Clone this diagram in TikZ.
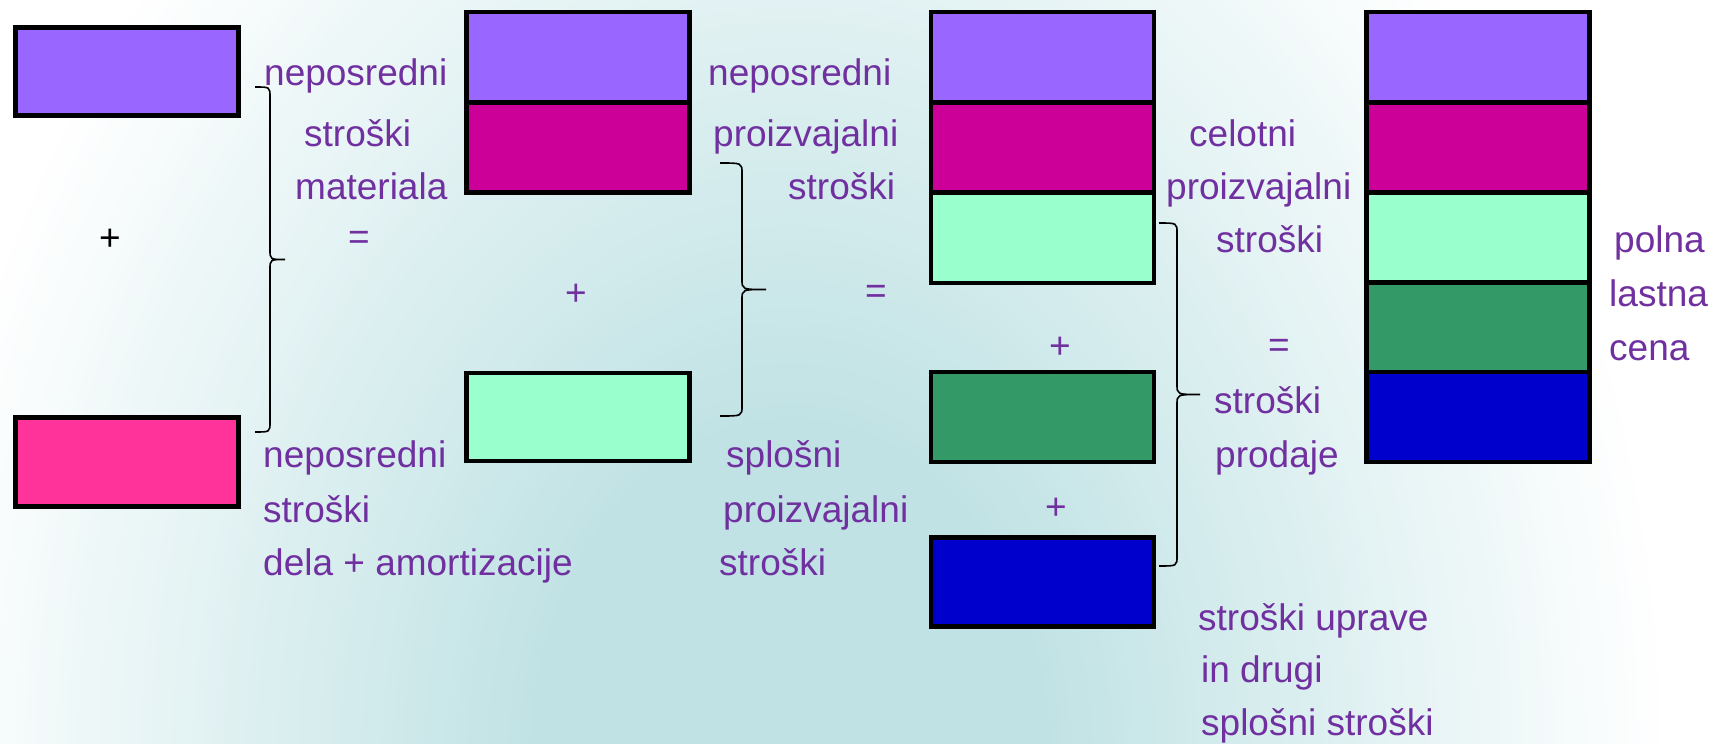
\documentclass[tikz,border=0pt]{standalone}
\usepackage{fontspec}
\setmainfont{Liberation Sans}
\definecolor{txt}{HTML}{7030A0}
\definecolor{cpurple}{HTML}{9966FF}
\definecolor{cmag}{HTML}{CC0099}
\definecolor{clgreen}{HTML}{99FFCC}
\definecolor{cdgreen}{HTML}{339966}
\definecolor{cblue}{HTML}{0000CC}
\definecolor{cpink}{HTML}{FF3399}
\definecolor{bgteal}{HTML}{C0E2E4}
\tikzset{
  box/.style={draw=black, line width=4.5pt, rectangle, inner sep=0pt, outer sep=0pt,
    minimum width=223pt, minimum height=90pt},
  lbl/.style={anchor=base west, inner sep=0pt, text=txt, font=\fontsize{37}{44}\selectfont},
  sym/.style={anchor=center, inner sep=0pt, text=txt, font=\fontsize{37}{44}\selectfont},
  brace/.style={draw=black, line width=1.6pt}
}
\begin{document}
\begin{tikzpicture}[x=1pt,y=-1pt]
\useasboundingbox (0,0) rectangle (1714,744);
\begin{scope}
\clip (0,0) rectangle (1714,744);
\fill[white] (0,0) rectangle (1714,744);
\foreach \i in {0,...,60}{
  \pgfmathsetmacro\rr{880-\i*10.5}
  \pgfmathsetmacro\ry{1150-\i*13.7}
  \pgfmathsetmacro\pp{\i*100/60}
  \fill[bgteal!\pp!white] (790,760) ellipse [x radius=\rr pt, y radius=\ry pt];
}
\end{scope}

% column 1
\node[box, fill=cpurple, minimum height=88pt] (a1) at (127,71.5) {};
\node[box, fill=cpink, minimum height=89pt] (a2) at (127,462) {};
\node[anchor=center, inner sep=0pt, font=\fontsize{37}{44}\selectfont] (p0) at (110,240) {+};

% column 2
\node[box, fill=cpurple] (b1) at (578,57) {};
\node[box, fill=cmag] (b2) at (578,147.5) {};
\node[box, fill=clgreen, minimum height=88pt] (b3) at (578,417) {};

% column 3
\node[box, fill=cpurple] (c1) at (1042.5,57) {};
\node[box, fill=cmag] (c2) at (1042.5,147.5) {};
\node[box, fill=clgreen] (c3) at (1042.5,238) {};
\node[box, fill=cdgreen] (c4) at (1042.5,417) {};
\node[box, fill=cblue, minimum height=89pt] (c5) at (1042.5,582) {};

% column 4
\node[box, fill=cpurple] (d1) at (1478,57) {};
\node[box, fill=cmag] (d2) at (1478,147.5) {};
\node[box, fill=clgreen] (d3) at (1478,238) {};
\node[box, fill=cdgreen] (d4) at (1478,327.5) {};
\node[box, fill=cblue] (d5) at (1478,417) {};

% braces
\coordinate (br1t) at (255,87);
\coordinate (br1b) at (255,432);
\coordinate (br1m) at (285,259.5);
\draw[brace] (br1t) .. controls (270,87) .. (270,97) -- (270,249.5) .. controls (270,259.5) .. (br1m)
  .. controls (270,259.5) .. (270,269.5) -- (270,422) .. controls (270,432) .. (br1b);

\coordinate (br2t) at (720,163);
\coordinate (br2b) at (720,416);
\coordinate (br2m) at (766,289.5);
\draw[brace] (br2t) .. controls (742,163) .. (742,173) -- (742,279.5) .. controls (742,289.5) .. (br2m)
  .. controls (742,289.5) .. (742,299.5) -- (742,406) .. controls (742,416) .. (br2b);

\coordinate (br3t) at (1159,223);
\coordinate (br3b) at (1159,566);
\coordinate (br3m) at (1200,394.5);
\draw[brace] (br3t) .. controls (1177,223) .. (1177,233) -- (1177,384.5) .. controls (1177,394.5) .. (br3m)
  .. controls (1177,394.5) .. (1177,404.5) -- (1177,556) .. controls (1177,566) .. (br3b);

% texts column 1
\node[lbl] (t1) at (264,85) {neposredni};
\node[lbl] (t2) at (304,146) {stroški};
\node[lbl] (t3) at (295,199) {materiala};
\node[sym] (e1) at (359,240) {=};
\node[lbl] (t4) at (263,467) {neposredni};
\node[lbl] (t5) at (263,522) {stroški};
\node[lbl] (t6) at (263,575) {dela + amortizacije};

% texts column 2
\node[lbl] (u1) at (708,85) {neposredni};
\node[lbl] (u2) at (713,146) {proizvajalni};
\node[lbl] (u3) at (788,199) {stroški};
\node[sym] (p1) at (576,295) {+};
\node[sym] (e2) at (876,294) {=};
\node[lbl] (u4) at (726,467) {splošni};
\node[lbl] (u5) at (723,522) {proizvajalni};
\node[lbl] (u6) at (719,575) {stroški};

% texts column 3
\node[sym] (p2) at (1060,348) {+};
\node[sym] (p3) at (1056,509) {+};
\node[lbl] (v1) at (1189,146) {celotni};
\node[lbl] (v2) at (1166,199) {proizvajalni};
\node[lbl] (v3) at (1216,252) {stroški};
\node[sym] (e3) at (1279,348) {=};
\node[lbl] (v4) at (1214,413) {stroški};
\node[lbl] (v5) at (1215,467) {prodaje};
\node[lbl] (v6) at (1198,630) {stroški uprave};
\node[lbl] (v7) at (1201,682) {in drugi};
\node[lbl] (v8) at (1201,735) {splošni stroški};

% texts column 4
\node[lbl] (w1) at (1614,252) {polna};
\node[lbl] (w2) at (1609,306) {lastna};
\node[lbl] (w3) at (1609,360) {cena};
\end{tikzpicture}
\end{document}
